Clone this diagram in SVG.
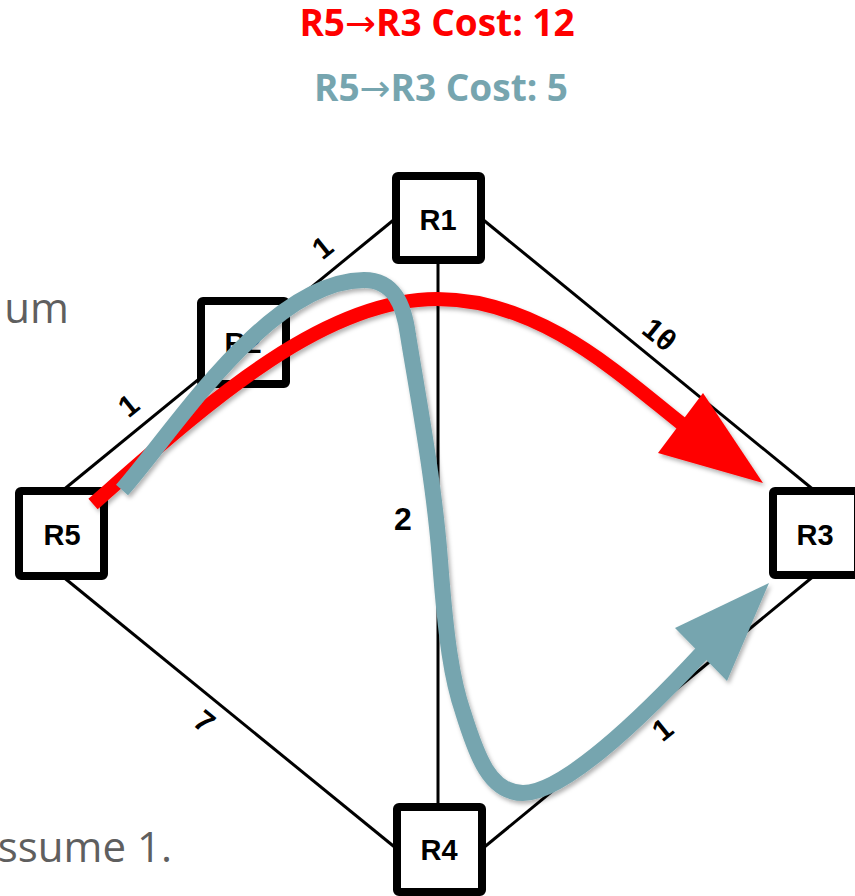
<svg xmlns="http://www.w3.org/2000/svg" width="855" height="896" viewBox="0 0 855 896">
  <style>
    .bg { font-family: "Open Sans", "Noto Sans", sans-serif; font-size: 42px; fill: #5f5f5f; }
    .title { font-family: "Open Sans", "Noto Sans", sans-serif; font-weight: bold; font-size: 37px; }
    .arr { font-family: "DejaVu Sans", sans-serif; font-weight: normal; }
    .box { fill: #ffffff; stroke: #000000; stroke-width: 8; }
    .nlabel { font-family: "Liberation Sans", Arial, sans-serif; font-weight: bold; font-size: 29px; fill: #000; text-anchor: middle; }
    .link { stroke: #000000; stroke-width: 3; fill: none; }
    .elabel { font-family: "Liberation Sans", Arial, sans-serif; font-weight: bold; font-size: 30px; fill: #000; text-anchor: middle; }
  </style>
  <defs>
    <filter id="shadow" x="-10%" y="-10%" width="120%" height="120%">
      <feDropShadow dx="2" dy="3" stdDeviation="2" flood-color="#000000" flood-opacity="0.3"/>
    </filter>
  </defs>
  <rect width="855" height="896" fill="#ffffff"/>

  <!-- background slide text fragments -->
  <text class="bg" x="69" y="323" text-anchor="end">um</text>
  <text class="bg" x="172" y="862" text-anchor="end">ssume 1.</text>

  <!-- titles -->
  <text class="title" x="437" y="36" text-anchor="middle" fill="#ff0000">R5<tspan class="arr">→</tspan>R3 Cost: 12</text>
  <text class="title" x="441" y="101" text-anchor="middle" fill="#76a5af">R5<tspan class="arr">→</tspan>R3 Cost: 5</text>

  <!-- connectors -->
  <g id="connectors">
    <line class="link" x1="62" y1="491" x2="396" y2="218"/>
    <line class="link" x1="481" y1="218" x2="815" y2="491"/>
    <line class="link" x1="438" y1="260" x2="438" y2="807"/>
    <line class="link" x1="62" y1="576" x2="397" y2="849"/>
    <line class="link" x1="482" y1="849" x2="815" y2="575"/>
    <text class="elabel" transform="translate(322,247) rotate(-39)" y="11">1</text>
    <text class="elabel" transform="translate(128,405) rotate(-39)" y="11">1</text>
    <text class="elabel" transform="translate(660,334) rotate(39)" y="11">1θ</text>
    <text class="elabel" transform="translate(205,721) rotate(39)" y="11">7</text>
    <text class="elabel" transform="translate(662,729) rotate(-39)" y="11">1</text>
    <text class="elabel" x="403" y="530" style="font-size:32px">2</text>
  </g>

  <!-- nodes -->
  <g id="R1">
    <rect class="box" x="396" y="176" width="85" height="84" rx="2"/>
    <text class="nlabel" x="438" y="230">R1</text>
  </g>
  <g id="R2">
    <rect class="box" x="201" y="301" width="85" height="83" rx="2"/>
    <text class="nlabel" x="243" y="353">R2</text>
  </g>
  <g id="R5">
    <rect class="box" x="19" y="491" width="85" height="85" rx="2"/>
    <text class="nlabel" x="62" y="545">R5</text>
  </g>
  <g id="R3">
    <rect class="box" x="773" y="491" width="85" height="84" rx="2"/>
    <text class="nlabel" x="815" y="545">R3</text>
  </g>
  <g id="R4">
    <rect class="box" x="397" y="807" width="85" height="85" rx="2"/>
    <text class="nlabel" x="439" y="860">R4</text>
  </g>

  <!-- highlighted paths -->
  <g id="paths" filter="url(#shadow)">
    <g id="red-path">
      <path d="M93,504 C200,410 320,299 437,299 C540,299 620,375 682,424" fill="none" stroke="#ff0000" stroke-width="14"/>
      <polygon points="763,483 658,453 703,393" fill="#ff0000"/>
    </g>
    <g id="teal-path">
      <path d="M122,490 C175,430 268,281 364,280 C394,280 404,305 408,335 C416,385 434,480 440,560 C446,640 452,680 463,712 C477,757 490,793 523,793 C563,793 640,720 703,652" fill="none" stroke="#76a5af" stroke-width="16"/>
      <polygon points="769,583 675,628 727,681" fill="#76a5af"/>
    </g>
  </g>
</svg>
